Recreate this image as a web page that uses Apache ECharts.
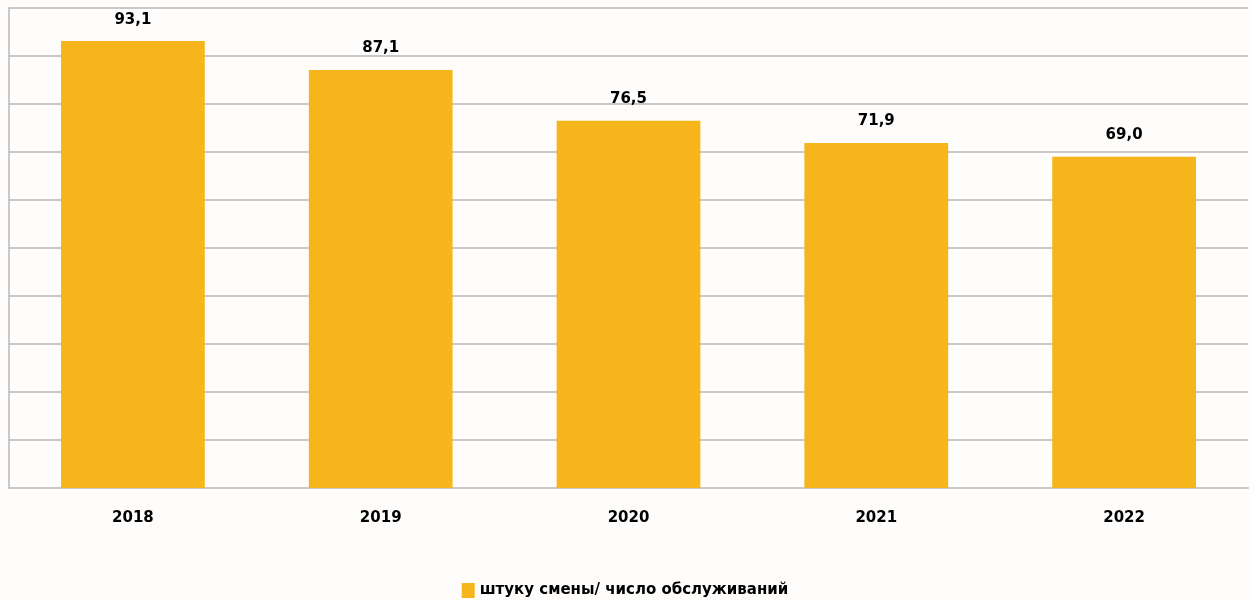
<!DOCTYPE html>
<html><head><meta charset="utf-8">
<script src="https://cdn.jsdelivr.net/npm/echarts@6/dist/echarts.min.js"></script>
<style>html,body{margin:0;padding:0;background:#fffdfb}#c{width:1250px;height:601px}</style>
</head><body><div id="c"></div>
<script>
const categories = ['2018','2019','2020','2021','2022'];
const values = [93.1, 87.1, 76.5, 71.9, 69.0];
const seriesName = 'штуку смены/ число обслуживаний';
const F = 'DejaVu Sans';
const chart = echarts.init(document.getElementById('c'));
chart.setOption({
  backgroundColor: '#fffdfb',
  animation: false,
  grid: {left: 9, right: 2, top: 8, bottom: 113, containLabel: false},
  legend: {top: 578, left: 'center', itemWidth: 13, itemHeight: 15, icon: 'rect', itemGap: 4,
    textStyle: {fontFamily: F, fontWeight: 'bold', fontSize: 15, color: '#000'}},
  xAxis: {type: 'category', data: categories,
    axisLine: {lineStyle: {color: '#c8c8c8', width: 2}}, axisTick: {show: false},
    axisLabel: {margin: 23, fontFamily: F, fontWeight: 'bold', fontSize: 15, color: '#000'}},
  yAxis: {type: 'value', min: 0, max: 100, interval: 10,
    axisLine: {show: true, lineStyle: {color: '#c8c8c8', width: 2}},
    axisLabel: {show: false}, axisTick: {show: false},
    splitLine: {lineStyle: {color: '#c8c8c8', width: 2}}},
  series: [{name: seriesName, type: 'bar', data: values, barWidth: '58%',
    itemStyle: {color: '#f5b51b'},
    label: {show: true, position: 'top', distance: 14, fontFamily: F, fontWeight: 'bold', fontSize: 15, color: '#000',
      formatter: p => p.value.toFixed(1).replace('.', ',')}}]
});
</script></body></html>
